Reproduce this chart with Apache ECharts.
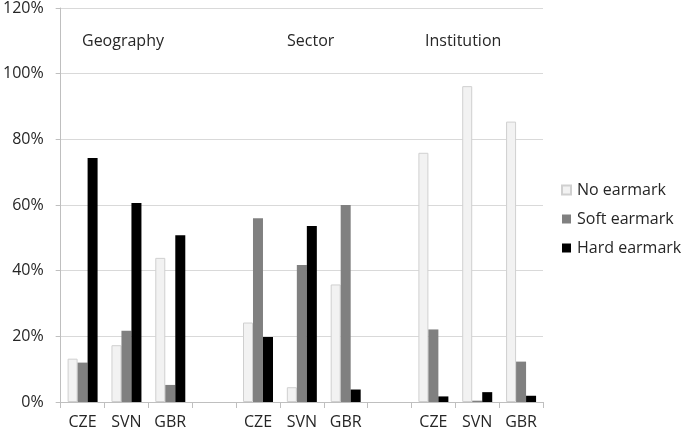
<!DOCTYPE html>
<html>
<head>
<meta charset="utf-8">
<script src="https://cdn.jsdelivr.net/npm/echarts@6/dist/echarts.min.js"></script>
<style>html,body{margin:0;padding:0;background:#fff;}#c{width:685px;height:435px;}</style>
</head>
<body>
<div id="c"></div>
<script>
const categories = ['CZE', 'SVN', 'GBR', '', 'CZE', 'SVN', 'GBR', '', 'CZE', 'SVN', 'GBR'];
const groupLabels = ['Geography', 'Sector', 'Institution'];
const seriesNames = ['No earmark', 'Soft earmark', 'Hard earmark'];
const noEarmark   = [13.2, 17.3, 43.9, null, 24.2, 4.5, 35.8, null, 75.9, 96.2, 85.4];
const softEarmark = [12.0, 21.7, 5.2, null, 56.0, 41.7, 60.0, null, 22.1, 0.4, 12.3];
const hardEarmark = [74.3, 60.6, 50.8, null, 19.8, 53.6, 3.8, null, 1.7, 3.0, 1.9];
const yTicks = [0, 20, 40, 60, 80, 100, 120];

const font = 'Open Sans';
const txt = '#262626';
const chart = echarts.init(document.getElementById('c'), null, {renderer: 'canvas'});
const mk = (name, data, color, border) => ({
  name, type: 'bar', data,
  barWidth: 10, barGap: '0%',
  itemStyle: {color, borderColor: border || color, borderWidth: border ? 1 : 0},
  emphasis: {disabled: true}
});
chart.setOption({
  animation: false,
  grid: {left: 60, right: 142, top: 8, bottom: 33},
  xAxis: {
    type: 'category', data: categories, boundaryGap: true,
    axisLine: {lineStyle: {color: '#bfbfbf'}},
    axisTick: {show: true, interval: 0, length: 6, lineStyle: {color: '#bfbfbf'}},
    axisLabel: {interval: 0, color: txt, fontFamily: font, fontSize: 16, margin: 12}
  },
  yAxis: {
    type: 'value', min: yTicks[0], max: yTicks[yTicks.length - 1], interval: 20,
    axisLine: {show: true, lineStyle: {color: '#bfbfbf'}},
    axisTick: {show: true, length: 5, lineStyle: {color: '#bfbfbf'}},
    splitLine: {lineStyle: {color: '#d9d9d9'}},
    axisLabel: {color: txt, fontFamily: font, fontSize: 16, margin: 17, formatter: v => v + '%'}
  },
  legend: {
    orient: 'vertical', left: 556, top: 177, itemGap: 13,
    itemWidth: 9, itemHeight: 9, icon: 'rect',
    textStyle: {color: txt, fontFamily: font, fontSize: 16, padding: [0, 0, 0, 1]},
    data: seriesNames
  },
  graphic: [
    {type: 'text', left: 82, top: 33, style: {text: groupLabels[0], fill: txt, font: '16px "Open Sans"'}},
    {type: 'text', left: 287, top: 33, style: {text: groupLabels[1], fill: txt, font: '16px "Open Sans"'}},
    {type: 'text', left: 425, top: 33, style: {text: groupLabels[2], fill: txt, font: '16px "Open Sans"'}}
  ],
  series: [
    mk(seriesNames[0], noEarmark, '#f2f2f2', '#d0d0d0'),
    mk(seriesNames[1], softEarmark, '#808080'),
    mk(seriesNames[2], hardEarmark, '#000000')
  ]
});
</script>
</body>
</html>
